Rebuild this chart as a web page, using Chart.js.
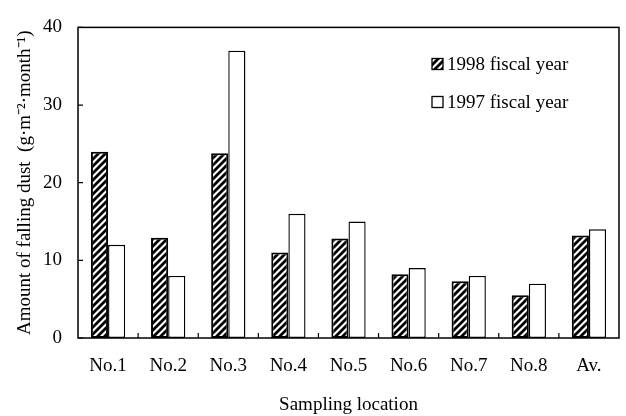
<!DOCTYPE html>
<html>
<head>
<meta charset="utf-8">
<script src="https://cdn.jsdelivr.net/npm/chart.js@4/dist/chart.umd.min.js"></script>
<style>
  html, body { margin: 0; padding: 0; background: #fff; }
  #wrap { width: 626px; height: 416px; }
</style>
</head>
<body>
<div id="wrap"><canvas id="dustChart" width="626" height="416"></canvas></div>
<script>
// sampling locations and monthly falling dust (g/m2/month)
const locations = ['No.1', 'No.2', 'No.3', 'No.4', 'No.5', 'No.6', 'No.7', 'No.8', 'Av.'];
const dust1998 = [24.0, 12.9, 23.8, 11.0, 12.8, 8.2, 7.3, 5.5, 13.2];
const dust1997 = [12.0, 8.0, 37.0, 16.0, 15.0, 9.0, 8.0, 7.0, 14.0];
const yTicks = [0, 10, 20, 30, 40];

const serif = "'Liberation Serif', 'Times New Roman', serif";
Chart.defaults.font.family = serif;
Chart.defaults.font.size = 19;
Chart.defaults.color = '#000';

// diagonal hatch fill for the 1998 bars
function makeHatch() {
  const size = 7;
  const c = document.createElement('canvas');
  c.width = size;
  c.height = size;
  const ctx = c.getContext('2d');
  ctx.fillStyle = '#fff';
  ctx.fillRect(0, 0, size, size);
  ctx.strokeStyle = '#000';
  ctx.lineWidth = 2.8;
  ctx.beginPath();
  ctx.moveTo(-1, size + 1);
  ctx.lineTo(size + 1, -1);
  ctx.moveTo(-1, 1);
  ctx.lineTo(1, -1);
  ctx.moveTo(size - 1, size + 1);
  ctx.lineTo(size + 1, size - 1);
  ctx.stroke();
  return ctx.createPattern(c, 'repeat');
}
const hatch = makeHatch();

// frame, inward tick marks and the legend inside the plot
const framePlugin = {
  id: 'frame',
  afterDraw(chart) {
    const ctx = chart.ctx;
    const area = chart.chartArea;
    const xs = chart.scales.x;
    const ys = chart.scales.y;
    ctx.save();
    ctx.strokeStyle = '#000';
    ctx.lineWidth = 1.5;
    ctx.strokeRect(area.left, area.top, area.right - area.left, area.bottom - area.top);

    ctx.lineWidth = 1.2;
    ctx.beginPath();
    yTicks.forEach(v => {
      const y = ys.getPixelForValue(v);
      ctx.moveTo(area.left, y);
      ctx.lineTo(area.left + 5, y);
    });
    const step = xs.width / locations.length;
    for (let i = 1; i < locations.length; i++) {
      const x = xs.getPixelForValue(i) - step / 2;
      ctx.moveTo(x, area.bottom);
      ctx.lineTo(x, area.bottom - 5);
    }
    ctx.stroke();

    // legend
    let ly = 64;
    ctx.font = '19px ' + serif;
    ctx.textBaseline = 'middle';
    ctx.textAlign = 'left';
    chart.data.datasets.forEach(ds => {
      ctx.fillStyle = ds.backgroundColor;
      ctx.fillRect(432, ly - 5.5, 11, 11);
      ctx.lineWidth = 1.3;
      ctx.strokeRect(432, ly - 5.5, 11, 11);
      ctx.fillStyle = '#000';
      ctx.fillText(ds.label, 447, ly + 1);
      ly += 38;
    });
    ctx.restore();
  }
};

new Chart(document.getElementById('dustChart'), {
  type: 'bar',
  data: {
    labels: locations,
    datasets: [
      {
        label: '1998 fiscal year',
        data: dust1998,
        backgroundColor: hatch,
        borderColor: '#000',
        borderWidth: 2,
        borderSkipped: false,
        barPercentage: 1,
        categoryPercentage: 0.57
      },
      {
        label: '1997 fiscal year',
        data: dust1997,
        backgroundColor: '#fff',
        borderColor: '#000',
        borderWidth: 1.4,
        borderSkipped: false,
        barPercentage: 1,
        categoryPercentage: 0.57
      }
    ]
  },
  options: {
    responsive: false,
    animation: false,
    layout: { padding: { top: 13, right: 7, left: 0, bottom: 0 } },
    plugins: {
      legend: { display: false },
      tooltip: { enabled: false }
    },
    scales: {
      x: {
        grid: { display: false, drawTicks: false },
        border: { display: false },
        ticks: { padding: 17 },
        title: {
          display: true,
          text: 'Sampling location',
          padding: { top: 0, bottom: 0 }
        },
        afterFit(scale) { scale.height = 78; }
      },
      y: {
        min: 0,
        max: 40,
        afterBuildTicks(scale) { scale.ticks = yTicks.map(v => ({ value: v })); },
        grid: { display: false, drawTicks: false },
        border: { display: false },
        ticks: { padding: 16 },
        title: {
          display: true,
          text: 'Amount of falling dust  (g\u00b7m\u207b\u00b2\u00b7month\u207b\u00b9)',
          padding: { top: 14, bottom: 0 }
        },
        afterFit(scale) { scale.width = 78; }
      }
    }
  },
  plugins: [framePlugin]
});
</script>
</body>
</html>
